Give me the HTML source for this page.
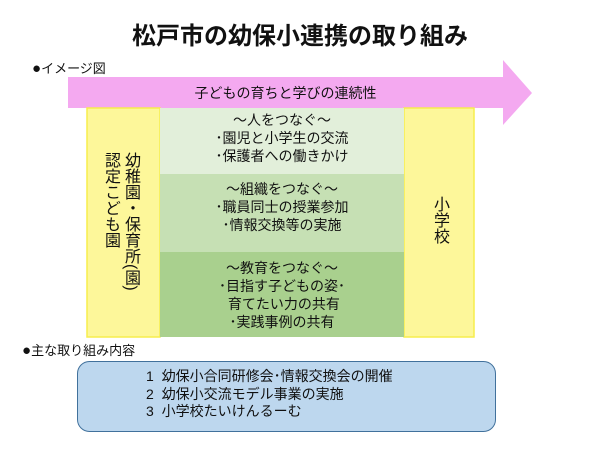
<!DOCTYPE html>
<html><head><meta charset="utf-8"><style>
body{margin:0;width:600px;height:450px;background:#fff;position:relative;overflow:hidden;font-family:"Liberation Sans","Noto Sans CJK JP",sans-serif;color:#111}
.a{position:absolute}
.c{text-align:center}
.b{font-size:15px}
</style></head><body>
<div class="a c" style="left:0;top:22px;width:600px;font-size:24px;font-weight:bold;line-height:30px">松戸市の幼保小連携の取り組み</div>
<div class="a" style="left:32px;top:61px;font-size:13px;line-height:16px"><span class="b">●</span>イメージ図</div>
<svg class="a" style="left:0;top:0" width="600" height="450">
<polygon points="68,77 503,77 503,60 532,93 503,125 503,108 68,108" fill="#f4a9f0"/>
<rect x="87" y="108" width="73" height="229" fill="#fdf79a" stroke="#f7ee4c" stroke-width="1.5"/>
<rect x="404" y="108" width="70" height="229" fill="#fdf79a" stroke="#f7ee4c" stroke-width="1.5"/>
<rect x="160" y="108" width="244" height="66" fill="#e2efda"/>
<rect x="160" y="174" width="244" height="78" fill="#c6e0b4"/>
<rect x="160" y="252" width="244" height="85" fill="#a9d08e"/>
<rect x="77.5" y="361.5" width="418" height="70" rx="12" fill="#bdd7ee" stroke="#41719c" stroke-width="1"/>
</svg>
<div class="a c" style="left:68px;top:84px;width:435px;font-size:14px;line-height:18px">子どもの育ちと学びの連続性</div>
<div class="a c" style="left:160px;top:111px;width:244px;font-size:14px;line-height:18px">〜人をつなぐ〜<br>･園児と小学生の交流<br>･保護者への働きかけ</div>
<div class="a c" style="left:160px;top:180px;width:244px;font-size:14px;line-height:18px">〜組織をつなぐ〜<br>･職員同士の授業参加<br>･情報交換等の実施</div>
<div class="a c" style="left:160px;top:259px;width:244px;font-size:14px;line-height:18px">〜教育をつなぐ〜<br>･目指す子どもの姿･<br>&nbsp;育てたい力の共有<br>･実践事例の共有</div>
<div class="a" style="left:100px;top:152px;writing-mode:vertical-rl;font-size:16px;line-height:20px;height:160px">幼稚園・保育所(園)<br>認定こども園</div>
<div class="a" style="left:430px;top:196px;writing-mode:vertical-rl;font-size:16px;line-height:18px">小学校</div>
<div class="a" style="left:22px;top:343px;font-size:13px;line-height:16px"><span class="b">●</span>主な取り組み内容</div>
<div class="a" style="left:146px;top:368px;font-size:14px;line-height:17.5px">1&nbsp;&nbsp;幼保小合同研修会･情報交換会の開催<br>2&nbsp;&nbsp;幼保小交流モデル事業の実施<br>3&nbsp;&nbsp;小学校たいけんるーむ</div>
</body></html>
